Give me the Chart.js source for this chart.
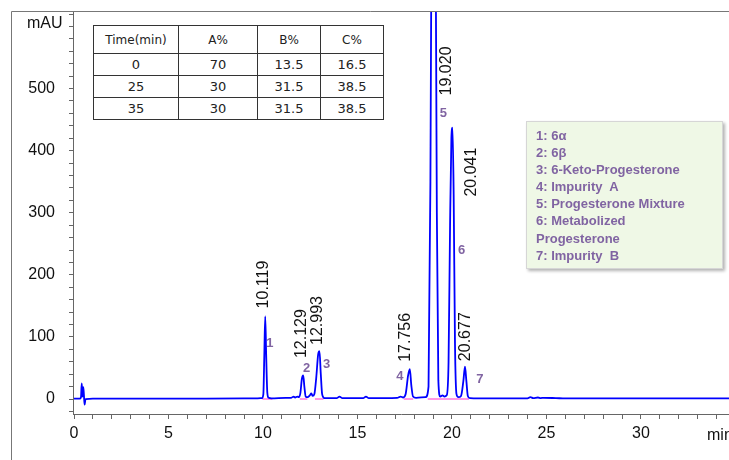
<!DOCTYPE html>
<html>
<head>
<meta charset="utf-8">
<script src="https://cdn.jsdelivr.net/npm/chart.js@4.4.1/dist/chart.umd.min.js"></script>
<style>
    html, body { margin: 0; padding: 0; background: #fff; }
    #wrap { position: relative; width: 729px; height: 460px; overflow: hidden; }
    #chart { position: absolute; left: 0; top: 0; }
    #gradient {
        position: absolute; left: 93px; top: 25px;
        border-collapse: collapse; background: #fff;
        font-family: "DejaVu Sans", sans-serif; color: #222;
    }
    #gradient td {
        border: 1px solid #333; text-align: center; padding: 0;
        font-size: 13px; height: 21px;
    }
    #gradient tr.head td { font-size: 12px; height: 27px; }
    #key {
        position: absolute; left: 526px; top: 121px; width: 172px; height: 141px;
        padding: 5px 14px 0 9px; background: #eff8e6; border: 1px solid #d6d6d6;
        box-shadow: 2px 2px 3px rgba(0, 0, 0, 0.3);
        font: bold 13px "Liberation Sans", Arial, sans-serif; color: #8064a2;
        line-height: 17.1px;
    }
</style>
</head>
<body>
<div id="wrap">
    <canvas id="chart" width="729" height="460"></canvas>
    <table id="gradient"></table>
    <div id="key"></div>
</div>
<script>
// chromatogram trace (min, mAU)
const times = [0, 0.3, 0.37, 0.41, 0.45, 0.49, 0.52, 0.56, 0.61, 1, 5, 9, 9.6, 9.95, 10.02, 10.07, 10.119, 10.17, 10.23, 10.3, 10.45,
    11.2, 11.5, 11.62, 11.7, 11.82, 11.9, 11.98, 12.06, 12.129, 12.19, 12.26, 12.36, 12.48, 12.56, 12.63, 12.72, 12.82, 12.92, 12.99,
    13.06, 13.13, 13.25, 13.9, 14.05, 14.2, 15.3, 15.45, 15.6, 17.1, 17.28, 17.42, 17.55, 17.68, 17.77, 17.85, 17.94, 18.1,
    18.6, 18.76, 18.86, 18.94, 19.03, 19.12, 19.2, 19.28, 19.38, 19.5, 19.6, 19.72, 19.82, 19.9, 19.97, 20.03, 20.09, 20.16, 20.24,
    20.34, 20.48, 20.6, 20.69, 20.76, 20.84, 20.95, 22, 24.0, 24.15, 24.3, 24.55, 24.7, 24.85, 25.5, 26, 30, 35];
const absorbance = [0.5, 0.5, 3, 25, 4, 19, 9, -9, 0, 0.5, 0.5, 1, 1, 1.5, 8, 70, 133, 70, 10, 2, 1,
    2, 2, 4, 2.5, 4, 3, 10, 33, 38, 20, 4, 3, 6, 9, 5, 8, 35, 72, 77,
    40, 8, 1.5, 1.5, 4, 1.5, 1.5, 4, 1.5, 2, 4, 2.5, 8, 38, 48, 22, 4, 2,
    3, 20, 350, 900, 1150, 850, 300, 30, 4, 6, 4, 6, 60, 280, 420, 437, 330, 90, 8,
    3, 5, 28, 52, 30, 5, 1.5, 1, 1, 3, 1.5, 2.5, 1.5, 2, 1.5, 1, 1, 1];

// integration baselines
const baselineStarts = [9.97, 11.95, 12.75, 17.45, 18.72];
const baselineEnds = [10.5, 12.35, 13.2, 17.95, 20.9];

// peaks
const retentionTimes = ["10.119", "12.129", "12.993", "17.756", "19.020", "20.041", "20.677"];
const peakNumbers = ["1", "2", "3", "4", "5", "6", "7"];
const peakNames = ["6\u03b1", "6\u03b2", "6-Keto-Progesterone", "Impurity\u00a0 A", "Progesterone Mixture",
    "Metabolized Progesterone", "Impurity\u00a0 B"];

// gradient table
const gradientTimes = ["0", "25", "35"];
const gradientA = ["70", "30", "30"];
const gradientB = ["13.5", "31.5", "31.5"];
const gradientC = ["16.5", "38.5", "38.5"];

// axis ticks
const yTickValues = [];
for (let v = -20; v <= 620; v += 20) yTickValues.push(v);
const xTickValues = [];
for (let v = 0; v <= 34; v += 1) xTickValues.push(v);

// label anchors in data units: [min, mAU]
const rtLabelAnchors = [[10.03, 146], [12.04, 66], [12.91, 87], [17.54, 60], [19.74, 489], [21.03, 326], [20.74, 61]];
const numberAnchors = [[10.37, 90], [12.31, 50], [13.37, 55], [17.25, 36], [19.54, 460], [20.51, 240], [21.48, 32]];

(function () {
    const table = document.getElementById("gradient");
    const colWidths = [84, 78, 62, 62];
    const head = document.createElement("tr");
    head.className = "head";
    ["Time(min)", "A%", "B%", "C%"].forEach(function (text, i) {
        const td = document.createElement("td");
        td.textContent = text;
        td.style.width = colWidths[i] + "px";
        head.appendChild(td);
    });
    table.appendChild(head);
    gradientTimes.forEach(function (t, i) {
        const tr = document.createElement("tr");
        [t, gradientA[i], gradientB[i], gradientC[i]].forEach(function (text) {
            const td = document.createElement("td");
            td.textContent = text;
            tr.appendChild(td);
        });
        table.appendChild(tr);
    });

    const key = document.getElementById("key");
    key.innerHTML = peakNames.map(function (name, i) {
        return "<div>" + peakNumbers[i] + ": " + name + "</div>";
    }).join("");
})();

const trace = times.map(function (t, i) {
    return { x: t, y: absorbance[i] };
});

const baselinePoints = [];
baselineStarts.forEach(function (start, i) {
    baselinePoints.push({ x: start, y: 0 }, { x: baselineEnds[i], y: 0 }, { x: baselineEnds[i] + 0.01, y: null });
});

// keep the plot box fixed, no room reserved for overhanging labels
function fixBox(size, key) {
    return function (scale) {
        scale[key] = size;
        scale.paddingTop = 0;
        scale.paddingBottom = 0;
        scale.paddingLeft = 0;
        scale.paddingRight = 0;
    };
}

const decorations = {
    id: "decorations",
    afterDraw: function (chart) {
        const ctx = chart.ctx;
        const xs = chart.scales.x;
        const ys = chart.scales.y;

        ctx.save();
        // frame
        ctx.strokeStyle = "#777";
        ctx.lineWidth = 1;
        ctx.beginPath();
        ctx.moveTo(11.5, 460);
        ctx.lineTo(11.5, 11.5);
        ctx.lineTo(729, 11.5);
        ctx.stroke();

        // units
        ctx.fillStyle = "#111";
        ctx.font = '16px "Liberation Sans", Arial, sans-serif';
        ctx.textAlign = "left";
        ctx.textBaseline = "alphabetic";
        ctx.fillText("mAU", 27, 28);
        ctx.fillText("min", 707, 440);

        // retention times
        ctx.textBaseline = "middle";
        retentionTimes.forEach(function (label, i) {
            const px = xs.getPixelForValue(rtLabelAnchors[i][0]);
            const py = ys.getPixelForValue(rtLabelAnchors[i][1]);
            ctx.save();
            ctx.translate(px, py);
            ctx.rotate(-Math.PI / 2);
            ctx.fillText(label, 0, 0);
            ctx.restore();
        });

        // peak numbers
        ctx.fillStyle = "#8064a2";
        ctx.font = 'bold 13px "Liberation Sans", Arial, sans-serif';
        ctx.textAlign = "center";
        peakNumbers.forEach(function (label, i) {
            ctx.fillText(label, xs.getPixelForValue(numberAnchors[i][0]), ys.getPixelForValue(numberAnchors[i][1]));
        });
        ctx.restore();
    }
};

new Chart(document.getElementById("chart").getContext("2d"), {
    type: "line",
    data: {
        datasets: [
            {
                data: trace,
                borderColor: "#0000ff",
                borderWidth: 1.8,
                pointRadius: 0,
                cubicInterpolationMode: "monotone",
                fill: false
            },
            {
                data: baselinePoints,
                borderColor: "#ff77dd",
                borderWidth: 1.5,
                pointRadius: 0,
                spanGaps: false,
                fill: false
            }
        ]
    },
    options: {
        responsive: false,
        animation: false,
        devicePixelRatio: 1,
        layout: { padding: { top: 11, right: 0, left: 0, bottom: 0 } },
        plugins: {
            legend: { display: false },
            tooltip: { enabled: false }
        },
        scales: {
            x: {
                type: "linear",
                min: -0.053,
                max: 34.66,
                afterFit: fixBox(46, "height"),
                afterBuildTicks: function (scale) {
                    scale.ticks = xTickValues.map(function (v) { return { value: v }; });
                },
                grid: { drawOnChartArea: false, drawTicks: true, tickLength: 5, color: "#666" },
                border: { display: true, color: "#666", width: 1 },
                ticks: {
                    autoSkip: false,
                    maxRotation: 0,
                    padding: 5,
                    color: "#111",
                    font: { family: '"Liberation Sans", Arial, sans-serif', size: 16 },
                    callback: function (v) { return v % 5 === 0 && v <= 30 ? String(v) : ""; }
                }
            },
            y: {
                type: "linear",
                min: -24.1,
                max: 624.9,
                afterFit: fixBox(73, "width"),
                afterBuildTicks: function (scale) {
                    scale.ticks = yTickValues.map(function (v) { return { value: v }; });
                },
                grid: { drawOnChartArea: false, drawTicks: true, tickLength: 4, color: "#666" },
                border: { display: true, color: "#666", width: 1 },
                ticks: {
                    autoSkip: false,
                    padding: 14,
                    color: "#111",
                    font: { family: '"Liberation Sans", Arial, sans-serif', size: 16 },
                    callback: function (v) { return v % 100 === 0 && v >= 0 && v <= 500 ? String(v) : ""; }
                }
            }
        }
    },
    plugins: [decorations]
});
</script>
</body>
</html>
